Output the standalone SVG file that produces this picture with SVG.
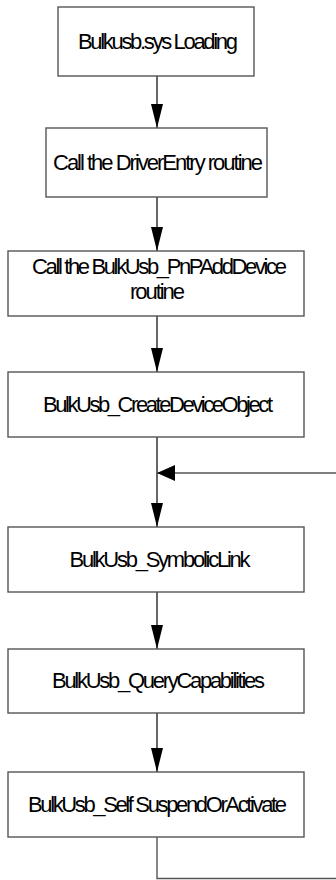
<svg xmlns="http://www.w3.org/2000/svg" width="336" height="880" viewBox="0 0 336 880">
  <style>
    .box { fill: #ffffff; stroke: #555555; stroke-width: 1.4; }
    .label { font-family: "Liberation Sans", Arial, sans-serif; font-size: 22px; fill: #000000; text-anchor: middle; }
    .flow { fill: none; stroke: #000000; stroke-width: 1.2; }
    .loop { fill: none; stroke: #555555; stroke-width: 1.4; }
  </style>
  <defs>
    <marker id="head" viewBox="0 0 24 12" refX="24" refY="6" markerWidth="24" markerHeight="12" markerUnits="userSpaceOnUse" orient="auto">
      <path d="M0,0 L24,6 L0,12 Z" fill="#000000"/>
    </marker>
    <marker id="head-wide" viewBox="0 0 18 16" refX="18" refY="8" markerWidth="18" markerHeight="16" markerUnits="userSpaceOnUse" orient="auto">
      <path d="M0,0 L18,8 L0,16 Z" fill="#000000"/>
    </marker>
  </defs>

  <!-- connectors -->
  <g id="connectors">
    <line class="flow" x1="157" y1="76" x2="157" y2="128" marker-end="url(#head)"/>
    <line class="flow" x1="157" y1="197" x2="157" y2="251" marker-end="url(#head)"/>
    <line class="flow" x1="157" y1="316" x2="157" y2="372" marker-end="url(#head)"/>
    <line class="flow" x1="157" y1="437" x2="157" y2="527" marker-end="url(#head)"/>
    <line class="flow" x1="157" y1="592" x2="157" y2="649" marker-end="url(#head)"/>
    <line class="flow" x1="157" y1="713" x2="157" y2="772" marker-end="url(#head)"/>
    <!-- return path back into the flow -->
    <polyline class="loop" points="157,837 157,878.5 336,878.5"/>
    <line class="loop" x1="336" y1="473" x2="157" y2="473" marker-end="url(#head-wide)"/>
  </g>

  <g id="node-loading">
    <rect class="box" x="58" y="7" width="196" height="69"/>
    <text class="label" x="158" y="49" textLength="160" lengthAdjust="spacing">Bulkusb.sys Loading</text>
  </g>

  <g id="node-driverentry">
    <rect class="box" x="46" y="128" width="221" height="69"/>
    <text class="label" x="158" y="170" textLength="210" lengthAdjust="spacing">Call the DriverEntry routine</text>
  </g>

  <g id="node-pnpadddevice">
    <rect class="box" x="8" y="251" width="296" height="65"/>
    <text class="label" x="159.5" y="274" textLength="255" lengthAdjust="spacing">Call the BulkUsb_PnPAddDevice</text>
    <text class="label" x="157.5" y="299" textLength="55" lengthAdjust="spacing">routine</text>
  </g>

  <g id="node-createdeviceobject">
    <rect class="box" x="8" y="372" width="296" height="65"/>
    <text class="label" x="158" y="412" textLength="230" lengthAdjust="spacing">BulkUsb_CreateDeviceObject</text>
  </g>

  <g id="node-symbolidlink">
    <rect class="box" x="8" y="527" width="296" height="65"/>
    <text class="label" x="160" y="567" textLength="181" lengthAdjust="spacing">BulkUsb_SymbolicLink</text>
  </g>

  <g id="node-querycapabilities">
    <rect class="box" x="8" y="649" width="296" height="64"/>
    <text class="label" x="158.5" y="688" textLength="213" lengthAdjust="spacing">BulkUsb_QueryCapabilities</text>
  </g>

  <g id="node-suspendoractivate">
    <rect class="box" x="8" y="772" width="296" height="65"/>
    <text class="label" x="157.5" y="812" textLength="259" lengthAdjust="spacing">BulkUsb_Self SuspendOrActivate</text>
  </g>
</svg>
